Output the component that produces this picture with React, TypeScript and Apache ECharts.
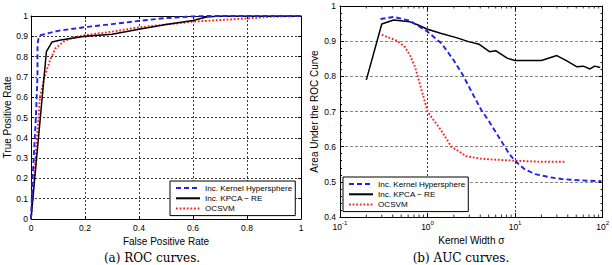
import React, { useEffect, useRef } from 'react';
import * as echarts from 'echarts';

// ---- ROC curves (false positive rate vs. true positive rate) ----
const rocKhFpr = [0, 0.006, 0.018, 0.024, 0.024, 0.028, 0.035, 0.1, 0.2, 0.3, 0.4, 0.5, 0.6, 0.65, 1];
const rocKhTpr = [0, 0.2, 0.5, 0.7, 0.86, 0.89, 0.905, 0.927, 0.945, 0.96, 0.976, 0.99, 0.998, 1, 1];

const rocKpcaFpr = [0, 0.057, 0.078, 0.11, 0.2, 0.3, 0.4, 0.5, 0.6, 0.65, 0.7, 1];
const rocKpcaTpr = [0, 0.824, 0.872, 0.882, 0.9, 0.91, 0.935, 0.958, 0.978, 0.995, 1, 1];

const rocOcFpr = [0, 0.028, 0.033, 0.05, 0.07, 0.09, 0.127, 0.165, 0.2, 0.3, 0.4, 0.5, 0.6, 0.7, 0.8, 0.9, 1];
const rocOcTpr = [0, 0.5, 0.6, 0.7, 0.78, 0.84, 0.88, 0.897, 0.905, 0.923, 0.944, 0.958, 0.972, 0.98, 0.988, 0.997, 1];

// ---- AUC against kernel width ----
const aucKhSigma = [0.29, 0.41, 0.63, 1.0, 1.44, 2.0, 2.53, 3.2, 4.1, 5.1, 7.2, 8.5, 10, 13, 17, 25, 34, 50, 70, 97];
const aucKhVal = [0.963, 0.969, 0.958, 0.927, 0.894, 0.845, 0.804, 0.755, 0.705, 0.67, 0.61, 0.581, 0.559, 0.535, 0.522, 0.513, 0.508, 0.505, 0.503, 0.502];

const aucKpcaSigma = [0.2, 0.3, 0.41, 0.63, 0.78, 1.0, 1.44, 2.13, 3.0, 3.9, 5.1, 6.0, 8.2, 10, 20, 30, 39, 51, 60, 72, 81, 94];
const aucKpcaVal = [0.79, 0.949, 0.96, 0.955, 0.946, 0.934, 0.922, 0.91, 0.898, 0.891, 0.87, 0.873, 0.851, 0.845, 0.845, 0.859, 0.844, 0.827, 0.829, 0.821, 0.829, 0.825];

const aucOcSigma = [0.3, 0.45, 0.55, 0.63, 0.72, 0.82, 1.0, 1.2, 1.38, 1.6, 1.87, 2.3, 2.76, 4, 5.1, 10, 20, 37.5];
const aucOcVal = [0.918, 0.901, 0.884, 0.86, 0.827, 0.777, 0.7, 0.672, 0.652, 0.627, 0.6, 0.586, 0.573, 0.566, 0.564, 0.56, 0.557, 0.557];

const seriesNames = ['Inc. Kernel Hypersphere', 'Inc. KPCA \u2212 RE', 'OCSVM'];

// log-axis minor tick marks (2..9 within each decade)
const minorMantissas = [2, 3, 4, 5, 6, 7, 8, 9];
const minorDecades = [0.1, 1, 10];

const SANS = "'Liberation Sans', Arial, Helvetica, sans-serif";
const SERIF = "'DejaVu Serif', 'Liberation Serif', serif";
const BLUE = '#2222e8';
const RED = '#ff2222';

const zip = (xs: number[], ys: number[]) => xs.map((x, i) => [x, ys[i]]);

const lineStyles = [
  { color: BLUE, width: 1.9, type: [5, 3] as number[] },
  { color: '#000', width: 1.5, type: 'solid' },
  { color: RED, width: 1.9, type: [1.8, 1.8] as number[] },
];
const colors = [BLUE, '#000', RED];

const tickLabel = { fontFamily: SANS, fontSize: 8.5, color: '#000' };
const axisLine = { show: true, onZero: false, lineStyle: { color: '#000', width: 1 } };
const dottedGrid = { show: true, lineStyle: { color: '#222', width: 0.9, type: [2, 2] } };

export default function App() {
  const ref = useRef<HTMLDivElement>(null);

  useEffect(() => {
    if (!ref.current) return;
    const chart = echarts.init(ref.current, undefined, { renderer: 'svg' });

    const minorTicks: number[][] = [];
    minorDecades.forEach((d) => minorMantissas.forEach((m) => minorTicks.push([m * d, 0.4])));

    const legendBase = {
      orient: 'vertical',
      data: seriesNames,
      itemWidth: 24,
      itemHeight: 8,
      itemGap: 2.3,
      padding: [3, 3, 3, 5],
      borderColor: '#000',
      borderWidth: 1,
      borderRadius: 0,
      backgroundColor: '#fff',
      selectedMode: false,
      itemStyle: { opacity: 0 },
      textStyle: { fontFamily: SANS, fontSize: 8.1, color: '#000', lineHeight: 8 },
    };

    const option: any = {
      animation: false,
      backgroundColor: '#fff',
      grid: [
        { left: 31, top: 16, width: 270, height: 203 },
        { left: 340, top: 6, width: 265, height: 211 },
      ],
      legend: [
        { ...legendBase, left: 170, top: 181 },
        { ...legendBase, left: 343, top: 177 },
      ],
      xAxis: [
        {
          type: 'value', gridIndex: 0, min: 0, max: 1, interval: 0.2,
          name: 'False Positive Rate', nameLocation: 'middle', nameGap: 12.5,
          nameTextStyle: { fontFamily: SANS, fontSize: 10, color: '#000' },
          axisLine, axisTick: { inside: true, length: 3, lineStyle: { color: '#000' } },
          axisLabel: { ...tickLabel, margin: 4 },
          splitLine: dottedGrid,
        },
        {
          type: 'value', gridIndex: 0, min: 0, max: 1, interval: 0.2, position: 'top',
          axisLine, axisTick: { inside: true, length: 3, lineStyle: { color: '#000' } },
          axisLabel: { show: false }, splitLine: { show: false },
        },
        {
          type: 'log', logBase: 10, gridIndex: 1, min: 0.1, max: 100,
          name: 'Kernel Width \u03c3', nameLocation: 'middle', nameGap: 14,
          nameTextStyle: { fontFamily: SANS, fontSize: 10, color: '#000' },
          axisLine, axisTick: { inside: true, length: 4, lineStyle: { color: '#000' } },
          axisLabel: {
            margin: 3,
            formatter: (v: number) => '{b|10}{s|' + Math.round(Math.log10(v)) + '}',
            rich: {
              b: { fontFamily: SANS, fontSize: 8.5, color: '#000', verticalAlign: 'bottom' },
              s: { fontFamily: SANS, fontSize: 6, color: '#000', verticalAlign: 'bottom', padding: [0, 0, 5, 0] },
            },
          },
          splitLine: dottedGrid,
        },
        {
          type: 'log', logBase: 10, gridIndex: 1, min: 0.1, max: 100, position: 'top',
          axisLine, axisTick: { inside: true, length: 4, lineStyle: { color: '#000' } },
          axisLabel: { show: false }, splitLine: { show: false },
        },
      ],
      yAxis: [
        {
          type: 'value', gridIndex: 0, min: 0, max: 1, interval: 0.1,
          name: 'True Positive Rate', nameLocation: 'middle', nameGap: 19,
          nameTextStyle: { fontFamily: SANS, fontSize: 10, color: '#000' },
          axisLine, axisTick: { inside: true, length: 3, lineStyle: { color: '#000' } },
          axisLabel: { ...tickLabel, margin: 3 },
          splitLine: dottedGrid,
        },
        {
          type: 'value', gridIndex: 0, min: 0, max: 1, interval: 0.1, position: 'right',
          axisLine, axisTick: { inside: true, length: 3, lineStyle: { color: '#000' } },
          axisLabel: { show: false }, splitLine: { show: false },
        },
        {
          type: 'value', gridIndex: 1, min: 0.4, max: 1, interval: 0.1,
          name: 'Area Under the ROC Curve', nameLocation: 'middle', nameGap: 21,
          nameTextStyle: { fontFamily: SANS, fontSize: 10, color: '#000' },
          axisLine, axisTick: { inside: true, length: 4, lineStyle: { color: '#000' } },
          minorTick: { show: true, splitNumber: 5, length: 2, lineStyle: { color: '#000' } },
          axisLabel: { ...tickLabel, margin: 4, formatter: (v: number) => String(+v.toFixed(1)) },
          splitLine: { show: true, lineStyle: { color: '#777', width: 0.9, type: [3, 2] } },
        },
        {
          type: 'value', gridIndex: 1, min: 0.4, max: 1, interval: 0.1, position: 'right',
          axisLine, axisTick: { inside: true, length: 4, lineStyle: { color: '#000' } },
          minorTick: { show: true, splitNumber: 5, length: 2, lineStyle: { color: '#000' } },
          axisLabel: { show: false }, splitLine: { show: false },
        },
      ],
      series: [
        ...[
          zip(rocKhFpr, rocKhTpr),
          zip(rocKpcaFpr, rocKpcaTpr),
          zip(rocOcFpr, rocOcTpr),
        ].map((data, i) => ({
          type: 'line', name: seriesNames[i], xAxisIndex: 0, yAxisIndex: 0,
          data, symbol: 'none', lineStyle: lineStyles[i], itemStyle: { color: colors[i] }, z: 5 - i,
        })),
        ...[
          zip(aucKhSigma, aucKhVal),
          zip(aucKpcaSigma, aucKpcaVal),
          zip(aucOcSigma, aucOcVal),
        ].map((data, i) => ({
          type: 'line', name: seriesNames[i], xAxisIndex: 2, yAxisIndex: 2,
          data, symbol: 'none', lineStyle: lineStyles[i], itemStyle: { color: colors[i] }, z: 5 - i,
        })),
        {
          type: 'custom', name: 'minor-ticks', xAxisIndex: 2, yAxisIndex: 2,
          silent: true, clip: false, data: minorTicks, z: 10,
          renderItem: (_p: any, api: any) => {
            const v = api.value(0);
            const b = api.coord([v, 0.4]);
            const t = api.coord([v, 1]);
            const st = { stroke: '#000', lineWidth: 0.8 };
            return {
              type: 'group',
              children: [
                { type: 'line', shape: { x1: b[0], y1: b[1], x2: b[0], y2: b[1] - 2.5 }, style: st },
                { type: 'line', shape: { x1: t[0], y1: t[1], x2: t[0], y2: t[1] + 2.5 }, style: st },
              ],
            };
          },
        },
      ],
      graphic: [
        {
          type: 'text', x: 152, y: 258,
          style: { text: '(a) ROC curves.', font: `12px ${SERIF}`, fill: '#000', textAlign: 'center', textVerticalAlign: 'middle' },
        },
        {
          type: 'text', x: 461, y: 258,
          style: { text: '(b) AUC curves.', font: `12px ${SERIF}`, fill: '#000', textAlign: 'center', textVerticalAlign: 'middle' },
        },
      ],
    };

    chart.setOption(option);
    return () => chart.dispose();
  }, []);

  return (
    <div
      ref={ref}
      style={{ position: 'absolute', left: 0, top: 0, width: 612, height: 265, background: '#fff' }}
    />
  );
}
